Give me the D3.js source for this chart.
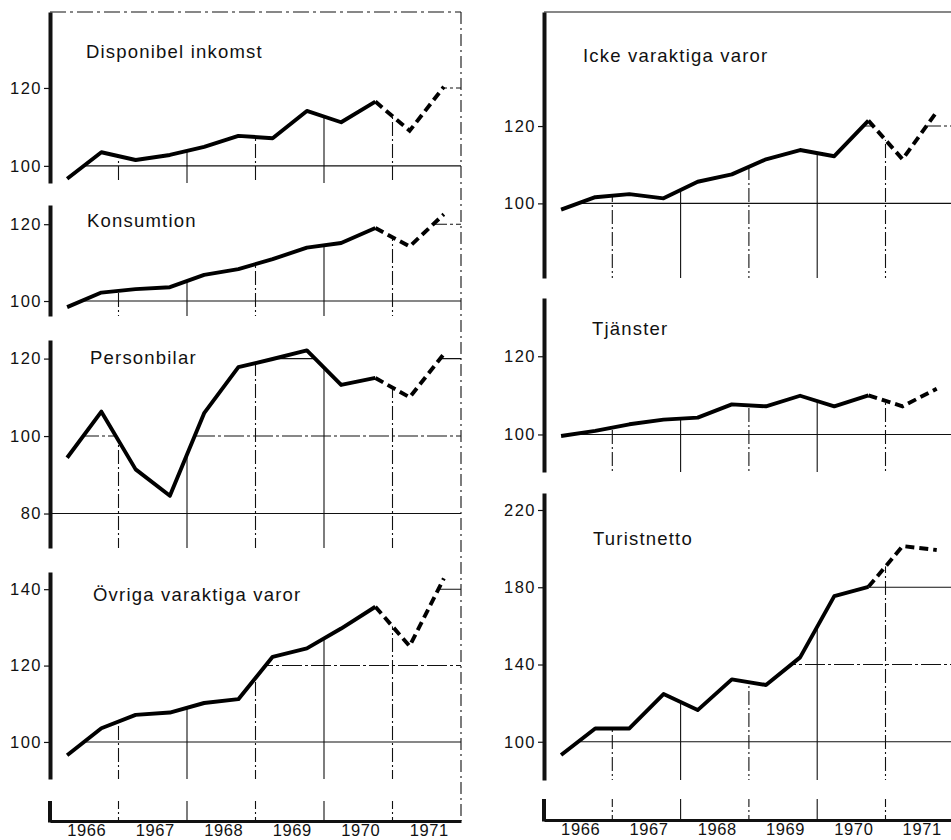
<!DOCTYPE html>
<html>
<head>
<meta charset="utf-8">
<script src="https://cdn.jsdelivr.net/npm/d3@7/dist/d3.min.js"></script>
<style>
  body { margin: 0; background: #fff; }
  text { font-family: "Liberation Sans", Arial, sans-serif; fill: #111; }
</style>
</head>
<body>
<svg id="chart" width="951" height="840"></svg>
<script>
// half-year observations, 1966:1 .. 1971:2 (last three points drawn dashed = prognos)
const halfYears = ['1966:1','1966:2','1967:1','1967:2','1968:1','1968:2',
                   '1969:1','1969:2','1970:1','1970:2','1971:1','1971:2'];
const years = [1966, 1967, 1968, 1969, 1970, 1971];

const disponibelInkomst = [96.7, 103.5, 101.5, 102.8, 104.9, 107.7, 107.1, 114.1, 111.2, 116.5, 109.0, 120.3];
const konsumtion        = [98.4, 102.2, 103.1, 103.6, 106.8, 108.3, 110.9, 113.9, 115.1, 119.0, 114.2, 122.6];
const personbilar       = [94.4, 106.3, 91.4, 84.6, 105.9, 117.8, 119.9, 122.1, 113.2, 115.0, 110.0, 121.2];
const ovrigaVaraktiga   = [96.5, 103.6, 107.1, 107.7, 110.2, 111.2, 122.3, 124.5, 129.7, 135.4, 125.1, 142.8];
const ickeVaraktiga     = [98.4, 101.6, 102.4, 101.3, 105.6, 107.5, 111.4, 113.8, 112.2, 121.4, 111.4, 123.7];
const tjanster          = [99.6, 100.9, 102.6, 103.8, 104.3, 107.7, 107.2, 109.9, 107.2, 110.0, 107.2, 111.7];
const turistnetto       = [93.1, 106.9, 106.9, 124.7, 116.4, 132.3, 129.4, 143.7, 175.4, 180.2, 201.3, 199.3];

const ticksDisponibel = [100, 120];
const ticksKonsumtion = [100, 120];
const ticksPersonbilar = [80, 100, 120];
const ticksOvriga = [100, 120, 140];
const ticksIcke = [100, 120];
const ticksTjanster = [100, 120];
const ticksTurist = [100, 140, 180, 220];

const FORECAST_FROM = 9; // index where the dashed part starts

// layout of the two columns (pixels) and the y-domain each panel covers
const columns = [
  {
    left: 50, yearW: 68.5, baseTop: 801, baseY: 821, top: 12, rightEdge: true,
    panels: [
      {title: 'Disponibel inkomst', values: disponibelInkomst, ticks: ticksDisponibel, top: 12, bottom: 183, domain: [95.6, 139.5], tx: 86, ty: 58},
      {title: 'Konsumtion', values: konsumtion, ticks: ticksKonsumtion, top: 205, bottom: 316, domain: [96.1, 125.0], tx: 87, ty: 227},
      {title: 'Personbilar', values: personbilar, ticks: ticksPersonbilar, top: 340, bottom: 548, domain: [71.1, 124.8], tx: 90, ty: 364},
      {title: 'Övriga varaktiga varor', values: ovrigaVaraktiga, ticks: ticksOvriga, top: 572, bottom: 779, domain: [90.3, 144.5], tx: 93, ty: 601}
    ]
  },
  {
    left: 544, yearW: 68.3, baseTop: 799, baseY: 820, top: 12, rightEdge: false,
    panels: [
      {title: 'Icke varaktiga varor', values: ickeVaraktiga, ticks: ticksIcke, top: 12, bottom: 278, domain: [80.7, 149.5], tx: 583, ty: 62},
      {title: 'Tjänster', values: tjanster, ticks: ticksTjanster, top: 298, bottom: 472, domain: [90.4, 134.9], tx: 592, ty: 335},
      {title: 'Turistnetto', values: turistnetto, ticks: ticksTurist, top: 493, bottom: 780, domain: [80.2, 228.8], tx: 593, ty: 545}
    ]
  }
];

const svg = d3.select('#chart');
let clipCount = 0;

columns.forEach(col => {
  const n = halfYears.length;
  const x = d3.scaleLinear()
    .domain([0, n])
    .range([col.left, col.left + col.yearW * years.length]);
  const boundaries = d3.range(2, n, 2);

  // top border
  svg.append('line')
    .attr('x1', x(0)).attr('x2', x(n))
    .attr('y1', col.top).attr('y2', col.top)
    .attr('stroke', '#111').attr('stroke-width', 1.2)
    .attr('stroke-dasharray', col.rightEdge ? '16,4,3,4' : null);

  // right edge of the left column
  if (col.rightEdge) {
    svg.append('line')
      .attr('x1', x(n)).attr('x2', x(n))
      .attr('y1', col.top).attr('y2', col.baseY)
      .attr('stroke', '#111').attr('stroke-width', 1.1)
      .attr('stroke-dasharray', '12,4,2,4');
  }

  col.panels.forEach(p => {
    const y = d3.scaleLinear().domain(p.domain).range([p.bottom, p.top]);
    const pts = p.values.map((v, i) => ({t: i + 0.5, v: v}));
    const clipPts = [{t: 0, v: p.values[0]}, ...pts, {t: n, v: p.values[n - 1]}];

    // grid is only visible below the curve
    const id = 'clip' + (clipCount++);
    svg.append('clipPath').attr('id', id)
      .append('path')
      .attr('d', d3.area().x(d => x(d.t)).y0(p.bottom).y1(d => y(d.v))(clipPts));

    const grid = svg.append('g').attr('clip-path', `url(#${id})`)
      .attr('stroke', '#111').attr('stroke-width', 1.1);

    grid.selectAll('.h')
      .data(p.ticks)
      .join('line')
      .attr('x1', x(0)).attr('x2', x(n))
      .attr('y1', d => y(d)).attr('y2', d => y(d))
      .attr('stroke-dasharray', (d, i) => i % 2 ? '20,3,3,3' : null);

    grid.selectAll('.v')
      .data(boundaries)
      .join('line')
      .attr('x1', d => x(d)).attr('x2', d => x(d))
      .attr('y1', p.top).attr('y2', p.bottom)
      .attr('stroke-dasharray', (d, i) => i % 2 ? null : '14,3,2,3');

    // left axis
    const axis = svg.append('g')
      .attr('transform', `translate(${col.left},0)`)
      .call(d3.axisLeft(y).tickValues(p.ticks).tickSize(6).tickSizeOuter(0).tickPadding(2));
    axis.select('.domain').attr('stroke', '#111').attr('stroke-width', 4);
    axis.selectAll('.tick line').attr('stroke', '#111').attr('stroke-width', 1.2);
    axis.selectAll('.tick text')
      .style('font-size', '16.5px')
      .style('letter-spacing', '1.5px')
      .attr('fill', '#111');

    // data line
    const line = d3.line().x(d => x(d.t)).y(d => y(d.v));
    svg.append('path')
      .attr('d', line(pts.slice(0, FORECAST_FROM + 1)))
      .attr('fill', 'none').attr('stroke', '#000')
      .attr('stroke-width', 3.9).attr('stroke-linejoin', 'round');
    svg.append('path')
      .attr('d', line(pts.slice(FORECAST_FROM)))
      .attr('fill', 'none').attr('stroke', '#000')
      .attr('stroke-width', 3.9).attr('stroke-dasharray', '9,5');

    svg.append('text')
      .attr('x', p.tx).attr('y', p.ty)
      .style('font-size', '18.5px')
      .style('letter-spacing', '1.2px')
      .text(p.title);
  });

  // bottom time axis
  const bx = svg.append('g')
    .attr('transform', `translate(0,${col.baseY})`)
    .call(d3.axisBottom(x)
      .tickValues(years.map((d, i) => 2 * i + 1))
      .tickFormat((d, i) => years[i])
      .tickSize(0).tickSizeOuter(0).tickPadding(3));
  bx.select('.domain').attr('stroke', '#111').attr('stroke-width', 3);
  bx.selectAll('.tick text')
    .attr('dx', 2)
    .style('font-size', '16.5px')
    .style('letter-spacing', '0.6px')
    .attr('fill', '#111');

  svg.append('line')
    .attr('x1', col.left).attr('x2', col.left)
    .attr('y1', col.baseTop).attr('y2', col.baseY + 1.5)
    .attr('stroke', '#111').attr('stroke-width', 4);

  svg.selectAll(null)
    .data(boundaries)
    .join('line')
    .attr('x1', d => x(d)).attr('x2', d => x(d))
    .attr('y1', col.baseTop).attr('y2', col.baseY)
    .attr('stroke', '#111').attr('stroke-width', 1.1)
    .attr('stroke-dasharray', (d, i) => i % 2 ? null : '8,3,2,3');
});
</script>
</body>
</html>
